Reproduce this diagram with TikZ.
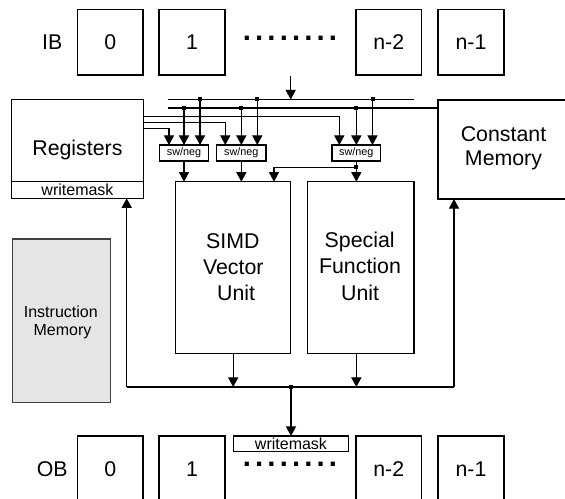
\documentclass[tikz,border=0pt]{standalone}
\usepackage{fontspec}
\setmainfont{Liberation Sans}
\usetikzlibrary{arrows.meta}
\newcommand\dotrow{.\kern3.1pt.\kern3.1pt.\kern3.1pt.\kern3.1pt.\kern3.1pt.\kern3.1pt.\kern3.1pt.}
\begin{document}
\begin{tikzpicture}[x=0.75pt,y=-0.75pt,
  line width=0.8pt,
  wh/.style 2 args={minimum width=#1*0.75pt, minimum height=#2*0.75pt},
  plain/.style={draw, inner sep=0pt, outer sep=0pt},
  box/.style={plain, font=\fontsize{16}{19}\selectfont},
  swbox/.style={plain, font=\fontsize{8.1}{9}\selectfont},
  wmbox/.style={plain, font=\fontsize{12}{14}\selectfont},
  lbl/.style={inner sep=0pt, outer sep=0pt, anchor=base, font=\fontsize{16}{19}\selectfont},
  small/.style={inner sep=0pt, outer sep=0pt, anchor=base, font=\fontsize{12}{14}\selectfont},
  dotsty/.style={inner sep=0pt, outer sep=0pt, anchor=base, font=\fontsize{22}{22}\bfseries\selectfont},
  arr/.style={-{Triangle[length=7.2pt,width=7.6pt]}},
  jdot/.style={fill, draw=none, inner sep=0pt, minimum size=3pt},
]
\useasboundingbox (0,0) rectangle (565,499);
\clip (0,0) rectangle (565,499);

% IB row
\node[lbl] (iblbl) at (52.3,50) {IB};
\node[box, wh={65.5}{65.7}] (ib0) at (110.25,42.15) {0};
\node[box, wh={66}{65.7}] (ib1) at (192,42.15) {1};
\node[box, wh={65.6}{65.7}] (ib2) at (388.8,42.15) {n-2};
\node[box, wh={66}{65.7}] (ib3) at (471,42.15) {n-1};
\node[dotsty] (ibdots) at (290,41) {\dotrow};

% Registers
\node[plain, wh={131.6}{99}] (reg) at (77.5,148.8) {};
\node[wmbox, wh={131.6}{16.6}] (regwm) at (77.5,190) {writemask};
\node[lbl] (regtxt) at (77.4,156) {Registers};

% Constant memory
\node[plain, wh={134}{99}] (cm) at (505,149.5) {};
\node[lbl] (cm1) at (503.5,141.5) {Constant};
\node[lbl] (cm2) at (503.5,166) {Memory};

% Instruction memory
\node[plain, draw=black!75, fill=gray!20, wh={98.4}{163.7}] (im) at (61.5,320.85) {};
\node[small] (im1) at (60.8,317.4) {Instruction};
\node[small] (im2) at (62.5,336) {Memory};

% sw/neg
\node[swbox, wh={49.4}{16}] (sw1) at (184,153) {sw/neg};
\node[swbox, wh={49.3}{16}] (sw2) at (241.35,153) {sw/neg};
\node[swbox, wh={48.7}{16}] (sw3) at (356.35,153) {sw/neg};

% Units
\node[plain, wh={115}{171.6}] (simd) at (233.2,267.5) {};
\node[lbl] (simd1) at (232.8,248.3) {SIMD};
\node[lbl] (simd2) at (233.3,274.3) {Vector};
\node[lbl] (simd3) at (236.2,300.5) {Unit};
\node[plain, wh={106.7}{171.6}] (sfu) at (360.65,267.5) {};
\node[lbl] (sfu1) at (359.7,247.7) {Special};
\node[lbl] (sfu2) at (360,273.7) {Function};
\node[lbl] (sfu3) at (360.2,300.5) {Unit};

% OB row
\node[lbl] (oblbl) at (52.3,476) {OB};
\node[box, wh={65.5}{65.7}] (ob0) at (110.25,468.85) {0};
\node[box, wh={66}{65.7}] (ob1) at (192,468.85) {1};
\node[box, wh={65.6}{65.7}] (ob2) at (388.8,468.85) {n-2};
\node[box, wh={66}{65.7}] (ob3) at (471,468.85) {n-1};
\node[wmbox, wh={115}{15.7}] (obwm) at (291,443.85) {writemask};
\node[dotsty] (obdots) at (290,466.3) {\dotrow};

% buses
\coordinate (ibsrc) at (290.7,76);
\coordinate (b1w) at (167.7,99.5);
\coordinate (b1e) at (414,99.5);
\coordinate (b2w) at (167.7,108);
\draw (b1w) -- (b1e);
\draw (b2w) -- (cm.west |- b2w);
\draw[arr] (ibsrc) -- (ibsrc |- b1w);

% taps from bus 2 (centre of each sw/neg)
\coordinate (t21) at (sw1.north |- b2w);
\coordinate (t22) at (sw2.north |- b2w);
\coordinate (t23) at (sw3.north |- b2w);
\draw[arr] (t21) -- (sw1.north);
\draw[arr] (t22) -- (sw2.north);
\draw[arr] (t23) -- (sw3.north);
% taps from bus 1
\coordinate (t11) at (200,99.5);
\coordinate (t12) at (257.3,99.5);
\coordinate (t13) at (372.5,99.5);
\draw[arr] (t11) -- (t11 |- sw1.north);
\draw[arr] (t12) -- (t12 |- sw2.north);
\draw[arr] (t13) -- (t13 |- sw3.north);
\foreach \c in {t21,t22,t23,t11,t12,t13}{\node[jdot] at (\c) {};}

% register outputs
\coordinate (r1) at (143.3,116.3);
\coordinate (r2) at (143.3,122.3);
\coordinate (r3) at (143.3,128.3);
\coordinate (s1a) at (169,145);
\coordinate (s2a) at (225.3,145);
\coordinate (s3a) at (339.3,145);
\draw[arr] (r1) -| (s3a);
\draw[arr] (r2) -| (s2a);
\draw[arr] (r3) -| (s1a);

% sw/neg outputs
\draw[arr] (sw1.south) -- (sw1.south |- simd.north);
\draw[arr] (sw2.south) -- (sw2.south |- simd.north);
\draw[arr] (sw3.south) -- (sw3.south |- sfu.north);
\coordinate (j3) at (356.35,167.3);
\coordinate (s4) at (274,181.7);
\draw[arr] (j3) -| (s4);
\node[jdot] (j3dot) at (j3) {};

% result bus
\coordinate (bl) at (126.7,387);
\coordinate (br) at (454,387);
\coordinate (bm) at (obwm.north |- bl);
\draw (bl) -- (br);
\draw[arr] (simd.south) -- (simd.south |- bl);
\draw[arr] (sw3.south |- sfu.south) -- (sw3.south |- bl);
\draw[arr] (bl) -- (bl |- reg.south);
\draw[arr] (br) -- (br |- cm.south);
\draw[arr] (bm) -- (obwm.north);
\node[jdot] (bmdot) at (bm) {};
\end{tikzpicture}
\end{document}
